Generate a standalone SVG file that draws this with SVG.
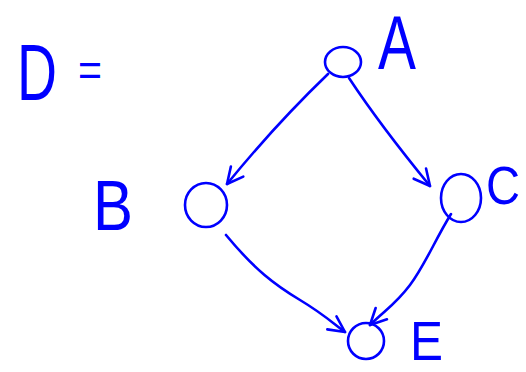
<svg xmlns="http://www.w3.org/2000/svg" width="526" height="372" viewBox="0 0 526 372">
<style>
.ink{fill:none;stroke:#0000ff;stroke-width:2.6;stroke-linecap:round;stroke-linejoin:round}
.lbl{fill:#0000ff;font-family:"Liberation Sans",Arial,sans-serif}
</style>
<defs>
<marker id="arr" viewBox="0 0 20 20" refX="18" refY="10" markerWidth="20" markerHeight="20" markerUnits="userSpaceOnUse" orient="auto">
<path d="M2,2 L18,10 L2,18" fill="none" stroke="#0000ff" stroke-width="2.6" stroke-linecap="round" stroke-linejoin="round"/>
</marker>
</defs>
<rect width="526" height="372" fill="#ffffff"/>
<g id="title">
<text class="lbl" x="17" y="100" font-size="80" textLength="40" lengthAdjust="spacingAndGlyphs">D</text>
<text class="lbl" x="78" y="86" font-size="46" textLength="24" lengthAdjust="spacingAndGlyphs">=</text>
</g>
<g id="connectors">
<path class="ink" d="M328,74 Q275,125 227,184" marker-end="url(#arr)"/>
<path class="ink" d="M349,78 Q380,125 430,186" marker-end="url(#arr)"/>
<path class="ink" d="M226,235 C255,270 275,285 300,300 S335,325 345,332" marker-end="url(#arr)"/>
<path class="ink" d="M451,214 C435,240 425,265 410,285 S385,310 370,325" marker-end="url(#arr)"/>
</g>
<g id="nodeA">
<ellipse class="ink" cx="343" cy="62" rx="18" ry="15"/>
<text class="lbl" x="378" y="69" font-size="76" textLength="38" lengthAdjust="spacingAndGlyphs">A</text>
</g>
<g id="nodeB">
<ellipse class="ink" cx="206" cy="205" rx="21" ry="22"/>
<text class="lbl" x="93" y="230" font-size="70" textLength="40" lengthAdjust="spacingAndGlyphs">B</text>
</g>
<g id="nodeC">
<ellipse class="ink" cx="461" cy="198" rx="20" ry="24"/>
<text class="lbl" x="486" y="204" font-size="54" textLength="34" lengthAdjust="spacingAndGlyphs">C</text>
</g>
<g id="nodeE">
<ellipse class="ink" cx="366" cy="341" rx="18" ry="18"/>
<text class="lbl" x="410" y="360" font-size="56" textLength="33" lengthAdjust="spacingAndGlyphs">E</text>
</g>
</svg>
